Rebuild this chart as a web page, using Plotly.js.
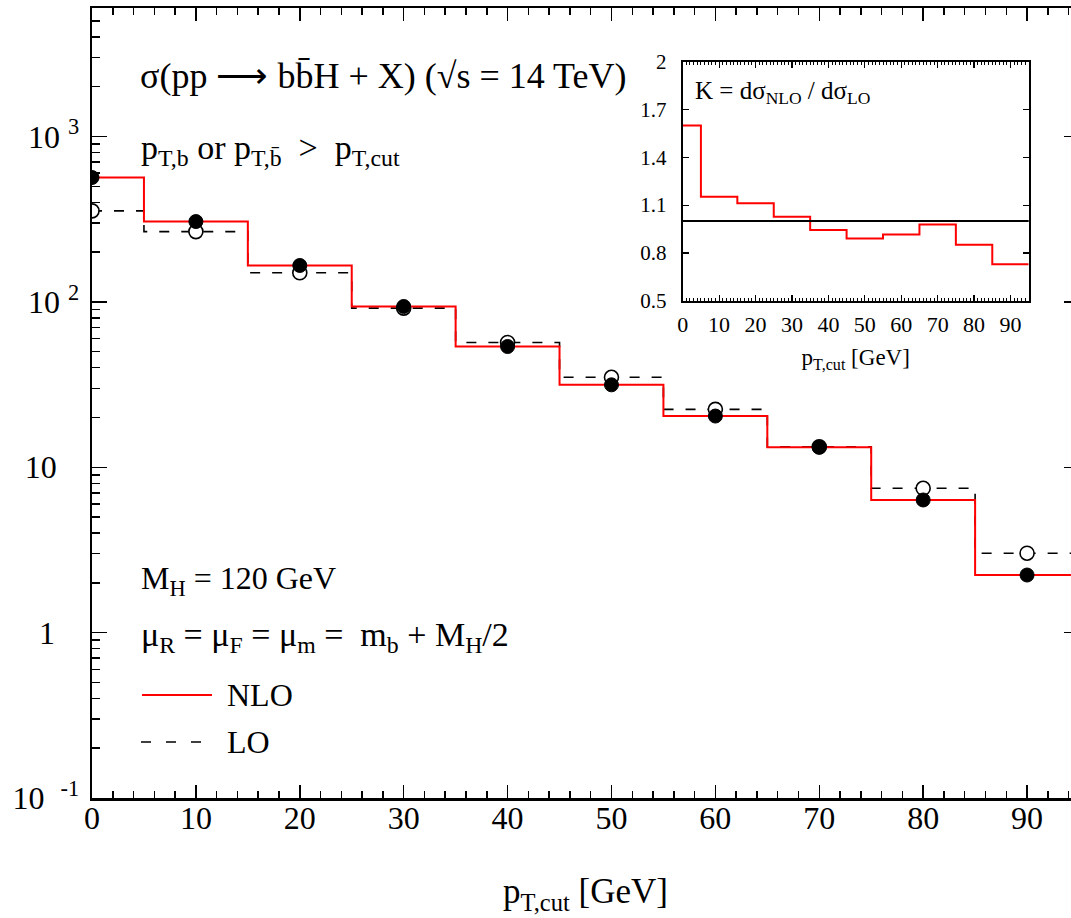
<!DOCTYPE html>
<html>
<head>
<meta charset="utf-8">
<script src="https://cdn.plot.ly/plotly-3.0.1.min.js"></script>
<style>
html,body{margin:0;padding:0;background:#fff;overflow:hidden;}
#chart{width:1100px;height:918px;}
</style>
</head>
<body>
<div id="chart"></div>
<script>
// ---- data ----
const ptCut = [0, 10, 20, 30, 40, 50, 60, 70, 80, 90];            // GeV, bin centres
const binEdges = [0, 5, 15, 25, 35, 45, 55, 65, 75, 85, 95];       // GeV, histogram edges
const sigmaNLO = [565, 306, 166, 93.8, 53.7, 31.5, 20.4, 13.2, 6.34, 2.23];
const sigmaLO  = [355, 266, 150, 91.6, 56.8, 35.0, 22.4, 13.3, 7.46, 3.02];
const kFactor  = [1.60, 1.153, 1.111, 1.027, 0.944, 0.891, 0.916, 0.979, 0.851, 0.728];
const yTickVals = [0.1, 1, 10, 100, 1000];
const yTickText = ['10 \u00a0<sup>-1</sup>', '1\u00a0\u00a0\u00a0', '10\u00a0\u00a0\u2009', '10 <sup>2</sup>', '10 <sup>3</sup>'];
const kTickVals = [0.5, 0.8, 1.1, 1.4, 1.7, 2];
const kTickText = ['0.5', '0.8', '1.1', '1.4', '1.7', '2'];
const xTickVals = [0, 10, 20, 30, 40, 50, 60, 70, 80, 90];

// step outlines: value held until the next edge (last value repeated to close the last bin)
const stepY = arr => arr.concat([arr[arr.length - 1]]);

// minor tick positions for the log axis
const yMinor = [];
for (let d = -1; d < 4; d++) for (let m = 2; m <= 9; m++) yMinor.push(m * Math.pow(10, d));

const FONT = 'Liberation Serif, Times New Roman, serif';

const traces = [
  {x: binEdges, y: stepY(sigmaLO), type: 'scatter', mode: 'lines', line: {shape: 'hv', color: '#000', width: 1.6, dash: '10px,12px'}, name: 'LO', showlegend: false, hoverinfo: 'skip'},
  {x: binEdges, y: stepY(sigmaNLO), type: 'scatter', mode: 'lines', line: {shape: 'hv', color: '#ff0000', width: 2}, name: 'NLO', showlegend: false, hoverinfo: 'skip'},
  {x: ptCut, y: sigmaLO, type: 'scatter', mode: 'markers', marker: {symbol: 'circle', size: 14, color: '#fff', line: {color: '#000', width: 1.6}}, showlegend: false, name: 'LO points'},
  {x: ptCut, y: sigmaNLO, type: 'scatter', mode: 'markers', marker: {symbol: 'circle', size: 14, color: '#000', line: {color: '#000', width: 1}}, showlegend: false, name: 'NLO points'},
  {x: binEdges, y: stepY(kFactor), xaxis: 'x2', yaxis: 'y2', type: 'scatter', mode: 'lines', line: {shape: 'hv', color: '#ff0000', width: 2}, showlegend: false, name: 'K', hoverinfo: 'skip'}
];

const L = 92, PW = 987, B = 798, PH = 790;
const px = v => (v - L) / PW;
const py = v => (B - v) / PH;

const ann = (text, x, y, size, extra) => Object.assign({
  text: text, xref: 'paper', yref: 'paper', x: px(x), y: py(y),
  xanchor: 'left', yanchor: 'middle', showarrow: false,
  font: {family: FONT, size: size, color: '#000'}
}, extra || {});

const layout = {
  width: 1100, height: 918,
  margin: {l: L, r: 1100 - L - PW, t: 8, b: 918 - B},
  paper_bgcolor: '#fff', plot_bgcolor: '#fff',
  showlegend: false,
  font: {family: FONT, color: '#000'},
  xaxis: {
    domain: [0, 1], range: [0, 95], showgrid: false, zeroline: false,
    showline: true, linewidth: 2.5, linecolor: '#000', mirror: 'ticks',
    ticks: 'inside', tickvals: xTickVals, ticklen: 13, tickwidth: 1.5, tickcolor: '#000',
    minor: {dtick: 2, tick0: 0, ticks: 'inside', ticklen: 7, tickwidth: 1.5, tickcolor: '#000', showgrid: false},
    tickfont: {family: FONT, size: 32}, ticklabelstandoff: -10,
    title: {text: 'p<sub>T,cut</sub> [GeV]', font: {family: FONT, size: 35}, standoff: 44}
  },
  yaxis: {
    type: 'log', range: [-1, 3.777], showgrid: false, zeroline: false,
    showline: true, linewidth: 2.5, linecolor: '#000', mirror: 'ticks',
    ticks: 'inside', tickvals: yTickVals, ticktext: yTickText, ticklen: 15, tickwidth: 1.5, tickcolor: '#000',
    minor: {tickvals: yMinor, ticks: 'inside', ticklen: 8, tickwidth: 1.5, tickcolor: '#000', showgrid: false},
    tickfont: {family: FONT, size: 32}, ticklabelstandoff: 4
  },
  xaxis2: {
    domain: [px(682.7), px(1028.7)], anchor: 'y2', range: [0, 95], showgrid: false, zeroline: false,
    showline: true, linewidth: 2, linecolor: '#000', mirror: 'ticks',
    ticks: 'inside', tickvals: xTickVals, ticklen: 6, tickwidth: 1.2, tickcolor: '#000',
    minor: {dtick: 1, tick0: 0, ticks: 'inside', ticklen: 3, tickwidth: 1, tickcolor: '#000', showgrid: false},
    tickfont: {family: FONT, size: 22}, ticklabelstandoff: 3,
    title: {text: 'p<sub>T,cut</sub> [GeV]', font: {family: FONT, size: 23}, standoff: 13}
  },
  yaxis2: {
    domain: [py(300.7), py(61.7)], anchor: 'x2', range: [0.5, 2], showgrid: false, zeroline: false,
    showline: true, linewidth: 2, linecolor: '#000', mirror: 'ticks',
    ticks: 'inside', tickvals: kTickVals, ticktext: kTickText, ticklen: 6, tickwidth: 1.2, tickcolor: '#000',
    tickfont: {family: FONT, size: 21}, ticklabelstandoff: 10
  },
  shapes: [
    {type: 'line', xref: 'x2 domain', yref: 'y2', x0: 0, x1: 1, y0: 1, y1: 1, line: {color: '#000', width: 2}},
    {type: 'line', xref: 'paper', yref: 'paper', x0: px(142), x1: px(212), y0: py(695), y1: py(695), line: {color: '#ff0000', width: 2}},
    {type: 'line', xref: 'paper', yref: 'paper', x0: px(141), x1: px(201), y0: py(742), y1: py(742), line: {color: '#000', width: 1.6, dash: '10px,15px'}}
  ],
  annotations: [
    ann('σ(pp \u27F6 bb\u0304H + X) (√s = 14 TeV)', 138, 76, 36),
    ann('p<sub>T,b</sub> or p<sub>T,b\u0304</sub> \u00a0>\u00a0 p<sub>T,cut</sub>', 139, 150, 34),
    ann('M<sub>H</sub> = 120 GeV', 139, 580, 32),
    ann('μ<sub>R</sub> = μ<sub>F</sub> = μ<sub>m</sub> = \u00a0m<sub>b</sub> + M<sub>H</sub>/2', 139, 637, 34),
    ann('NLO', 225, 695, 32),
    ann('LO', 225, 742, 32),
    ann('K = dσ<sub>NLO</sub> / dσ<sub>LO</sub>', 693, 92, 25)
  ]
};

Plotly.newPlot('chart', traces, layout, {displayModeBar: false, staticPlot: true});
</script>
</body>
</html>
